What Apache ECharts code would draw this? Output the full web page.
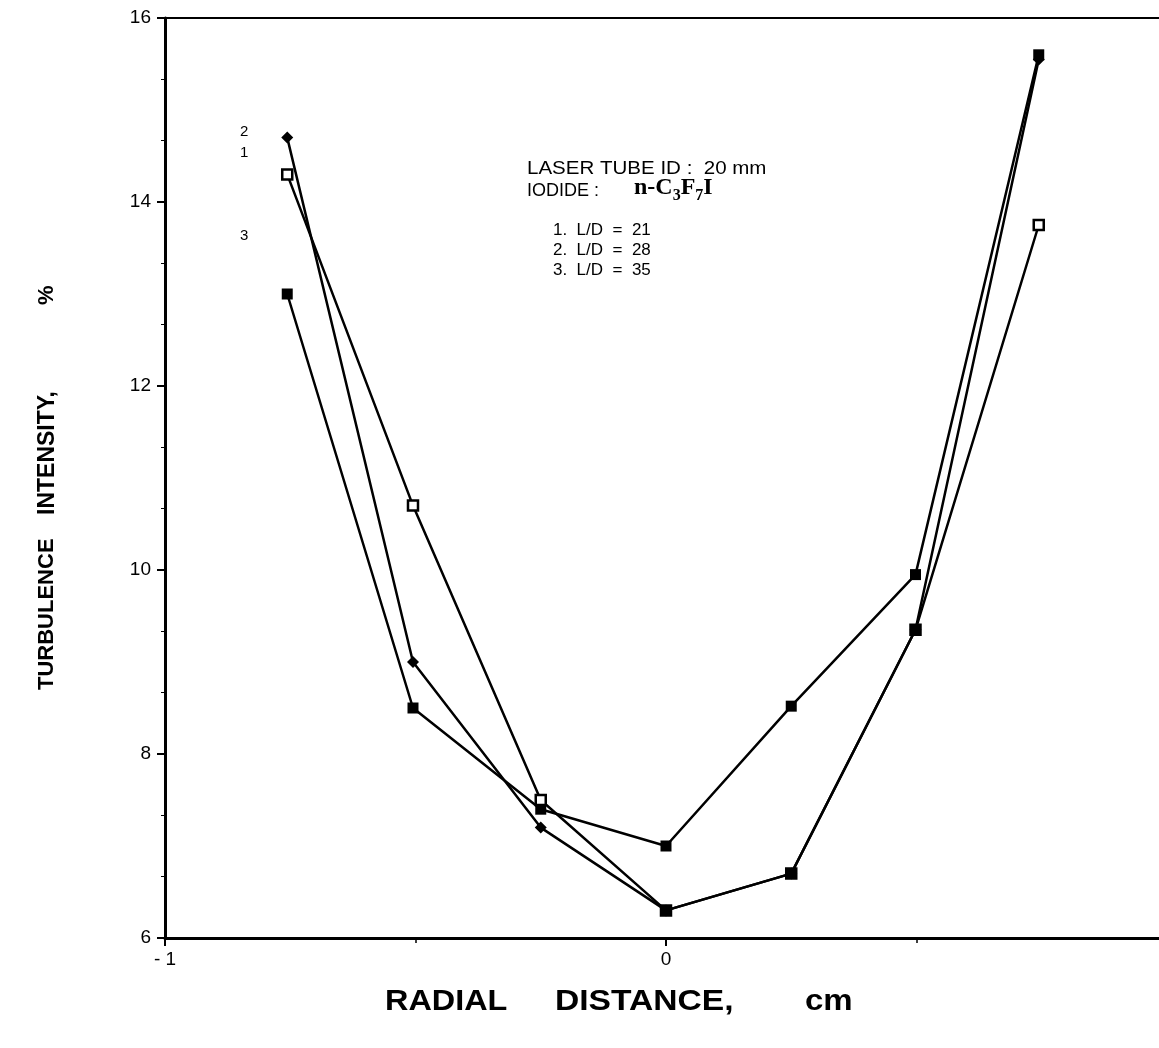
<!DOCTYPE html>
<html>
<head>
<meta charset="utf-8">
<script src="https://cdn.jsdelivr.net/npm/echarts@6/dist/echarts.min.js"></script>
<style>
html,body{margin:0;padding:0;background:#fff;}
#c{width:1159px;height:1048px;}
</style>
</head>
<body>
<div id="c"></div>
<script>
// Radial positions (cm)
var radialX = [-0.756, -0.505, -0.25, 0, 0.25, 0.498, 0.744];
// Turbulence intensity (%)
var ld21 = [14.3, 10.7, 7.5, 6.3, 6.7, 9.35, 13.75];
var ld28 = [14.7, 9.0, 7.2, 6.3, 6.7, 9.35, 15.55];
var ld35 = [13.0, 8.5, 7.4, 7.0, 8.52, 9.95, 15.6];
var seriesNames = ['1.  L/D  =  21', '2.  L/D  =  28', '3.  L/D  =  35'];
var xTicks = [-1, 0, 1];

function pairs(vals){ return radialX.map(function(x,i){ return [x, vals[i]]; }); }

// where series 1 and 2 coincide the printed chart shows a solid square
function ld21Data(){
  return radialX.map(function(x,i){
    var item = {value:[x, ld21[i]]};
    if (ld21[i] === ld28[i]) item.itemStyle = {color:'#000'};
    return item;
  });
}

var chart = echarts.init(document.getElementById('c'));
var font = '"Liberation Sans", Arial, Helvetica, sans-serif';
var serif = '"Liberation Serif", "Times New Roman", serif';
function txt(s, left, top, f, sx){ return {type:'text', left:left, top:top, z:10, scaleX:sx || 1, style:{text:s, font:f, fill:'#000'}}; }
function vtxt(s, bottom, size){ return {type:'text', left:36, bottom:bottom, rotation:Math.PI/2, z:10, style:{text:s, font:'bold ' + size + 'px ' + font, fill:'#000'}}; }

chart.setOption({
  animation:false,
  backgroundColor:'#fff',
  grid:{left:165, top:18, height:920, width:1002, outerBoundsMode:'none', containLabel:false,
        show:true, borderColor:'#000', borderWidth:2, backgroundColor:'transparent'},
  xAxis:{
    type:'value', min:-1, max:1, interval:1,
    axisLine:{show:true, onZero:false, lineStyle:{color:'#000', width:3}},
    axisTick:{show:true, length:8, lineStyle:{color:'#000', width:2}},
    minorTick:{show:true, splitNumber:2, length:5, lineStyle:{color:'#000', width:1.5}},
    splitLine:{show:false},
    axisLabel:{color:'#000', fontFamily:font, fontSize:19, margin:12,
      formatter:function(v){ return v < 0 ? '- ' + Math.abs(v) : String(v); },
      customValues: xTicks}
  },
  yAxis:{
    type:'value', min:6, max:16, interval:2,
    axisLine:{show:true, onZero:false, lineStyle:{color:'#000', width:3}},
    axisTick:{show:true, length:8, lineStyle:{color:'#000', width:2}},
    minorTick:{show:true, splitNumber:3, length:4, lineStyle:{color:'#000', width:1}},
    splitLine:{show:false},
    axisLabel:{color:'#000', fontFamily:font, fontSize:19, margin:14}
  },
  series:[
    {name:seriesNames[1], type:'line', data:pairs(ld28), symbol:'diamond', symbolSize:12,
     lineStyle:{color:'#000', width:2.5}, itemStyle:{color:'#000'}, z:2},
    {name:seriesNames[2], type:'line', data:pairs(ld35), symbol:'rect', symbolSize:11,
     lineStyle:{color:'#000', width:2.5}, itemStyle:{color:'#000'}, z:3},
    {name:seriesNames[0], type:'line', data:ld21Data(), symbol:'rect', symbolSize:10,
     lineStyle:{color:'#000', width:2.5}, itemStyle:{color:'#fff', borderColor:'#000', borderWidth:2.5}, z:4}
  ],
  graphic:[
    vtxt('TURBULENCE', 358, 22),
    vtxt('INTENSITY,', 533, 23),
    vtxt('%', 743, 22),
    txt('RADIAL', 385, 987, 'bold 30px ' + font, 1.08),
    txt('DISTANCE,', 555, 987, 'bold 30px ' + font, 1.12),
    txt('cm', 805, 987, 'bold 30px ' + font, 1.1),
    txt('2', 240, 124, '15px ' + font),
    txt('1', 240, 145, '15px ' + font),
    txt('3', 240, 228, '15px ' + font),
    txt('LASER TUBE ID :  20 mm', 527, 160, '18px ' + font, 1.14),
    {type:'text', left:527, top:176, z:10, style:{
      text:'{a|IODIDE :       }{f|n-C}{s|3}{f|F}{s|7}{f|I}',
      rich:{
        a:{font:'18px ' + font, color:'#000', lineHeight:26, verticalAlign:'bottom'},
        f:{font:'bold 24px ' + serif, color:'#000', lineHeight:26, verticalAlign:'bottom'},
        s:{font:'bold 16px ' + serif, color:'#000', lineHeight:26, verticalAlign:'bottom', padding:[0,0,-4,0]}
      }}},
    {type:'text', left:553, top:220, z:10, style:{text:seriesNames.join('\n'), font:'17px ' + font, lineHeight:20, fill:'#000'}}
  ]
});
</script>
</body>
</html>
